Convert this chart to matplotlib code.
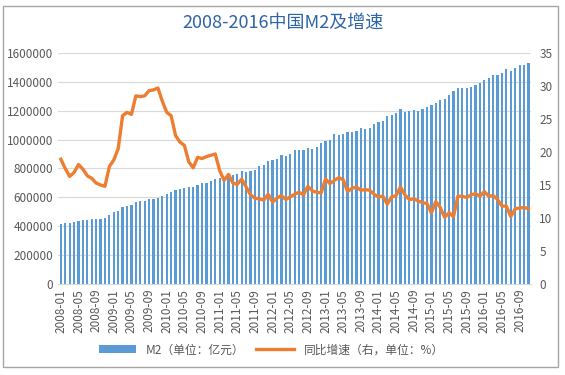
import matplotlib
matplotlib.use('Agg')
import matplotlib.pyplot as plt
from matplotlib.patches import Rectangle
from matplotlib.ticker import FuncFormatter

plt.rcParams['font.family'] = ['Noto Sans CJK SC', 'DejaVu Sans']

# 月份 2008-01 .. 2016-11
months = ['%d-%02d' % (y, m) for y in range(2008, 2017) for m in range(1, 13)][:107]

# M2 余额（亿元）
m2 = [417846, 421037, 423054, 429313, 436221, 443141, 446362, 448846, 452898, 453133, 458644, 475166,
      496135, 506708, 530627, 540481, 548263, 568916, 571740, 576700, 585405, 586643, 594604, 610225,
      625609, 636073, 649947, 656561, 663351, 673921, 674051, 687506, 696471, 699776, 710339, 725774,
      733885, 736131, 758131, 757385, 763410, 780821, 772923, 780853, 787406, 816829, 825494, 851591,
      855899, 867172, 895565, 889605, 900049, 924991, 925375, 924900, 943688, 936404, 946718, 974149,
      992129, 998600, 1035858, 1032552, 1042169, 1054404, 1052212, 1061256, 1077379, 1070242, 1079257, 1106525,
      1123521, 1131800, 1160700, 1168800, 1182300, 1209600, 1194100, 1197500, 1202100, 1199200, 1209400, 1228400,
      1242700, 1253400, 1275300, 1280200, 1308600, 1333400, 1356900, 1356900, 1359800, 1361000, 1374900, 1392300,
      1416300, 1424600, 1446200, 1446500, 1461100, 1490500, 1478500, 1494000, 1516400, 1519500, 1530400]

# 同比增速（%）
growth = [18.9, 17.5, 16.3, 16.9, 18.1, 17.4, 16.4, 16.0, 15.3, 15.0, 14.8, 17.8,
          18.8, 20.5, 25.5, 26.0, 25.7, 28.5, 28.4, 28.5, 29.3, 29.4, 29.7, 27.7,
          26.0, 25.5, 22.5, 21.5, 21.0, 18.5, 17.6, 19.2, 19.0, 19.3, 19.5, 19.7,
          17.2, 15.7, 16.6, 15.3, 15.1, 15.9, 14.7, 13.5, 13.0, 12.9, 12.7, 13.6,
          12.4, 13.0, 13.4, 12.8, 13.2, 13.6, 13.9, 13.5, 14.8, 14.1, 13.9, 13.8,
          15.9, 15.2, 15.7, 16.1, 15.8, 14.0, 14.5, 14.7, 14.2, 14.3, 14.2, 13.6,
          13.2, 13.3, 12.1, 13.2, 13.4, 14.7, 13.5, 12.8, 12.9, 12.6, 12.3, 12.2,
          10.8, 12.5, 11.6, 10.1, 10.8, 10.2, 13.3, 13.3, 13.1, 13.5, 13.7, 13.3,
          14.0, 13.3, 13.4, 12.8, 11.8, 11.8, 10.2, 11.4, 11.5, 11.6, 11.4]

label_color = '#595959'
x = list(range(len(months)))

fig = plt.figure(figsize=(5.65, 3.75), dpi=100)
ax = fig.add_axes([0.103, 0.2427, 0.837, 0.616])

bars = ax.bar(x, m2, width=0.5, color='#5b9bd5', zorder=2)
ax.set_ylim(0, 1600000)
ax.set_yticks(range(0, 1600001, 200000))
ax.yaxis.set_major_formatter(FuncFormatter(lambda v, p: '%d' % v))
ax.set_xlim(-0.6, len(x) - 0.4)
ax.set_xticks(x[::4])
ax.set_xticklabels(months[::4], rotation=90)
ax.grid(axis='y', color='#d9d9d9', linewidth=0.8, zorder=0)
ax.tick_params(axis='both', length=0, labelsize=8.5, colors=label_color)
for s in ax.spines.values():
    s.set_visible(False)
ax.spines['bottom'].set_visible(True)
ax.spines['bottom'].set_color('#d9d9d9')

ax2 = ax.twinx()
line, = ax2.plot(x, growth, color='#ed7d31', linewidth=2.4, zorder=3)
ax2.set_ylim(0, 35)
ax2.set_yticks(range(0, 36, 5))
ax2.tick_params(axis='y', length=0, labelsize=8.5, colors=label_color, pad=6)
for s in ax2.spines.values():
    s.set_visible(False)

fig.text(0.5, 0.94, '2008-2016中国M2及增速', ha='center', va='center',
         fontsize=13, color='#2e64a8')

fig.legend([bars, line], ['M2（单位：亿元）', '同比增速（右，单位：%）'],
           loc='center', bbox_to_anchor=(0.48, 0.067), ncol=2, frameon=False,
           fontsize=8.5, labelcolor=label_color, handlelength=3.2, columnspacing=1.0)

# 外框
fig.patches.append(Rectangle((0.006, 0.022), 0.982, 0.963, transform=fig.transFigure,
                             fill=False, edgecolor='#a6a6a6', linewidth=1))

fig.savefig('out.png', dpi=100)
